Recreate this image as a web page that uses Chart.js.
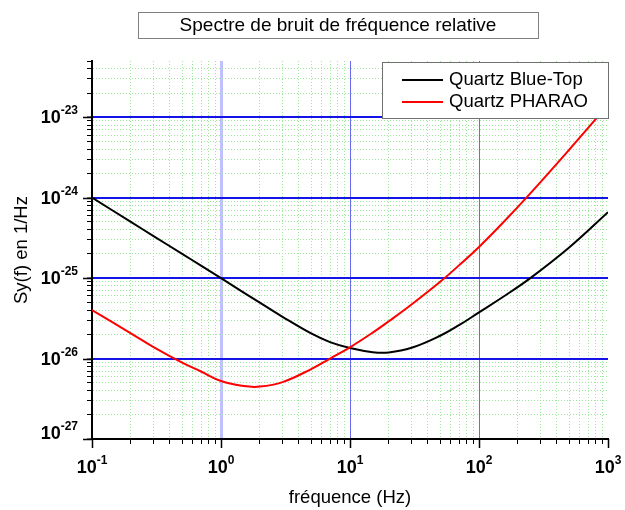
<!DOCTYPE html>
<html>
<head>
<meta charset="utf-8">
<script src="https://cdn.jsdelivr.net/npm/chart.js@4"></script>
<style>
  body { margin: 0; background: #fff; }
  canvas { display: block; }
</style>
</head>
<body>
<canvas id="chart" width="625" height="510"></canvas>
<script>
const chartTitle = 'Spectre de bruit de fréquence relative';
const xTitle = 'fréquence (Hz)';
const yTitle = 'Sy(f) en 1/Hz';
const seriesNames = ['Quartz Blue-Top', 'Quartz PHARAO'];
const seriesColors = ['#000000', '#ff0000'];

// frequencies (Hz)
const freq = [0.1, 0.2, 0.3, 0.5, 0.7, 1, 1.5, 2, 3, 5, 7, 10, 15, 20, 30, 50, 70, 100, 150, 250, 500, 1000];
const blueTop = [1.0e-24, 5.0e-25, 3.33e-25, 2.0e-25, 1.43e-25, 1.0e-25, 6.6e-26, 4.95e-26, 3.3e-26, 2.05e-26, 1.6e-26, 1.35e-26, 1.2e-26, 1.19e-26, 1.36e-26, 1.92e-26, 2.6e-26, 3.75e-26, 5.7e-26, 1.0e-25, 2.4e-25, 6.6e-25];
const pharao = [4.0e-26, 2.06e-26, 1.39e-26, 8.9e-27, 6.9e-27, 5.25e-27, 4.55e-27, 4.48e-27, 5.1e-27, 7.4e-27, 1.0e-26, 1.38e-26, 2.1e-26, 2.91e-26, 4.7e-26, 9.0e-26, 1.44e-25, 2.44e-25, 4.7e-25, 1.13e-24, 3.94e-24, 1.42e-23];

// decades that get a "10^n" label
const xDecades = [-1, 0, 1, 2, 3];
const yDecades = [-27, -26, -25, -24, -23];
const xMin = 0.1, xMax = 1000;
const yMin = 1e-27, yMax = 5e-23;

const FONT = '"Liberation Sans", Arial, sans-serif';

function logTicks(min, max) {
  const ticks = [];
  const e0 = Math.floor(Math.log10(min) + 1e-9);
  const e1 = Math.floor(Math.log10(max) + 1e-9);
  for (let e = e0; e <= e1; e++) {
    for (let m = 1; m <= 9; m++) {
      const v = Number(m + 'e' + e);
      if (v >= min * 0.9999 && v <= max * 1.0001) ticks.push({ value: v, major: m === 1 });
    }
  }
  return ticks;
}

function atEdge(v, min, max) {
  return v <= min * 1.0001 || v >= max * 0.9999;
}

function drawPower(ctx, exp, x, baseline, align) {
  ctx.font = 'bold 18px ' + FONT;
  const w10 = ctx.measureText('10').width;
  ctx.font = 'bold 12px ' + FONT;
  const sup = String(exp);
  const wSup = ctx.measureText(sup).width;
  const left = align === 'right' ? x - w10 - wSup : x - (w10 + wSup) / 2;
  ctx.textAlign = 'left';
  ctx.textBaseline = 'alphabetic';
  ctx.fillStyle = '#000';
  ctx.font = 'bold 18px ' + FONT;
  ctx.fillText('10', left, baseline);
  ctx.font = 'bold 12px ' + FONT;
  ctx.fillText(sup, left + w10, baseline - 9);
}

const decorations = {
  id: 'decorations',
  afterDraw(chart) {
    const ctx = chart.ctx;
    const area = chart.chartArea;
    const xs = chart.scales.x, ys = chart.scales.y;
    ctx.save();

    // longer tick marks on decades
    ctx.strokeStyle = '#000';
    ctx.lineWidth = 1.5;
    ctx.beginPath();
    yDecades.forEach(e => {
      const y = Math.round(ys.getPixelForValue(Math.pow(10, e))) + 0.5;
      ctx.moveTo(area.left - 9, y);
      ctx.lineTo(area.left, y);
    });
    xDecades.forEach(e => {
      const x = Math.round(xs.getPixelForValue(Math.pow(10, e))) + 0.5;
      ctx.moveTo(x, area.bottom);
      ctx.lineTo(x, area.bottom + 9);
    });
    ctx.stroke();

    // tick labels
    yDecades.forEach((e, i) => {
      const y = ys.getPixelForValue(Math.pow(10, e));
      drawPower(ctx, e, area.left - 14, i === 0 ? y : y + 6, 'right');
    });
    xDecades.forEach(e => {
      const x = xs.getPixelForValue(Math.pow(10, e));
      drawPower(ctx, e, x, area.bottom + 34, 'center');
    });

    // axis titles
    ctx.font = '18.5px ' + FONT;
    ctx.fillStyle = '#000';
    ctx.textAlign = 'center';
    ctx.textBaseline = 'alphabetic';
    ctx.fillText(xTitle, (area.left + area.right) / 2, 503);
    ctx.save();
    ctx.translate(27, (area.top + area.bottom) / 2);
    ctx.rotate(-Math.PI / 2);
    ctx.fillText(yTitle, 0, 0);
    ctx.restore();

    // title box
    ctx.fillStyle = '#fff';
    ctx.fillRect(138, 12, 400, 26);
    ctx.strokeStyle = '#808080';
    ctx.lineWidth = 1;
    ctx.strokeRect(138.5, 12.5, 400, 26);
    ctx.fillStyle = '#000';
    ctx.font = '19px ' + FONT;
    ctx.fillText(chartTitle, 338, 31);

    // legend box
    const lw = 227, lh = 57;
    const lx = Math.round(area.right) - lw + 1, ly = Math.round(area.top) + 1;
    ctx.fillStyle = '#fff';
    ctx.fillRect(lx, ly, lw, lh);
    ctx.strokeStyle = '#707070';
    ctx.strokeRect(lx + 0.5, ly + 0.5, lw - 1, lh - 1);
    chart.data.datasets.forEach((ds, i) => {
      const y = ly + 18 + i * 22;
      ctx.strokeStyle = ds.borderColor;
      ctx.lineWidth = 2;
      ctx.beginPath();
      ctx.moveTo(lx + 20, y);
      ctx.lineTo(lx + 61, y);
      ctx.stroke();
      ctx.fillStyle = '#000';
      ctx.textAlign = 'left';
      ctx.font = '18.5px ' + FONT;
      ctx.fillText(ds.label, lx + 67, y + 5);
    });
    ctx.restore();
  }
};

function points(ys) {
  return freq.map((f, i) => ({ x: f, y: ys[i] }));
}

new Chart(document.getElementById('chart'), {
  type: 'line',
  data: {
    datasets: [{
      label: seriesNames[0],
      data: points(blueTop),
      borderColor: seriesColors[0],
      borderWidth: 2,
      pointRadius: 0,
      tension: 0.4,
      fill: false
    }, {
      label: seriesNames[1],
      data: points(pharao),
      borderColor: seriesColors[1],
      borderWidth: 2,
      pointRadius: 0,
      tension: 0.4,
      fill: false,
      order: -1
    }]
  },
  options: {
    responsive: false,
    animation: false,
    layout: { padding: { left: 87, right: 17, top: 61, bottom: 66 } },
    plugins: {
      legend: { display: false },
      title: { display: false },
      tooltip: { enabled: false }
    },
    scales: {
      x: {
        type: 'logarithmic',
        min: xMin,
        max: xMax,
        afterBuildTicks: scale => { scale.ticks = logTicks(xMin, xMax); },
        ticks: { display: false },
        border: {
          color: '#000',
          width: 2,
          dash: c => (c.tick && !c.tick.major ? [1, 2] : [])
        },
        grid: {
          tickLength: 5,
          tickColor: '#000',
          tickWidth: 1,
          color: c => {
            if (!c.tick || atEdge(c.tick.value, xMin, xMax)) return 'rgba(0,0,0,0)';
            if (!c.tick.major) return '#9ee89e';
            return Math.abs(c.tick.value - 1) < 1e-9 ? 'rgba(140,140,255,0.55)' : '#6a6af0';
          },
          lineWidth: c => (c.tick && c.tick.major && Math.abs(c.tick.value - 1) < 1e-9 ? 3 : 1)
        }
      },
      y: {
        type: 'logarithmic',
        min: yMin,
        max: yMax,
        afterBuildTicks: scale => { scale.ticks = logTicks(yMin, yMax); },
        ticks: { display: false },
        border: {
          color: '#000',
          width: 2,
          dash: c => (c.tick && !c.tick.major ? [1, 2] : [])
        },
        grid: {
          tickLength: 5,
          tickColor: '#000',
          tickWidth: 1,
          color: c => {
            if (!c.tick || atEdge(c.tick.value, yMin, yMax)) return 'rgba(0,0,0,0)';
            return c.tick.major ? '#1414e6' : '#9ee89e';
          },
          lineWidth: c => (c.tick && c.tick.major ? 2 : 1)
        }
      }
    }
  },
  plugins: [decorations]
});
</script>
</body>
</html>
